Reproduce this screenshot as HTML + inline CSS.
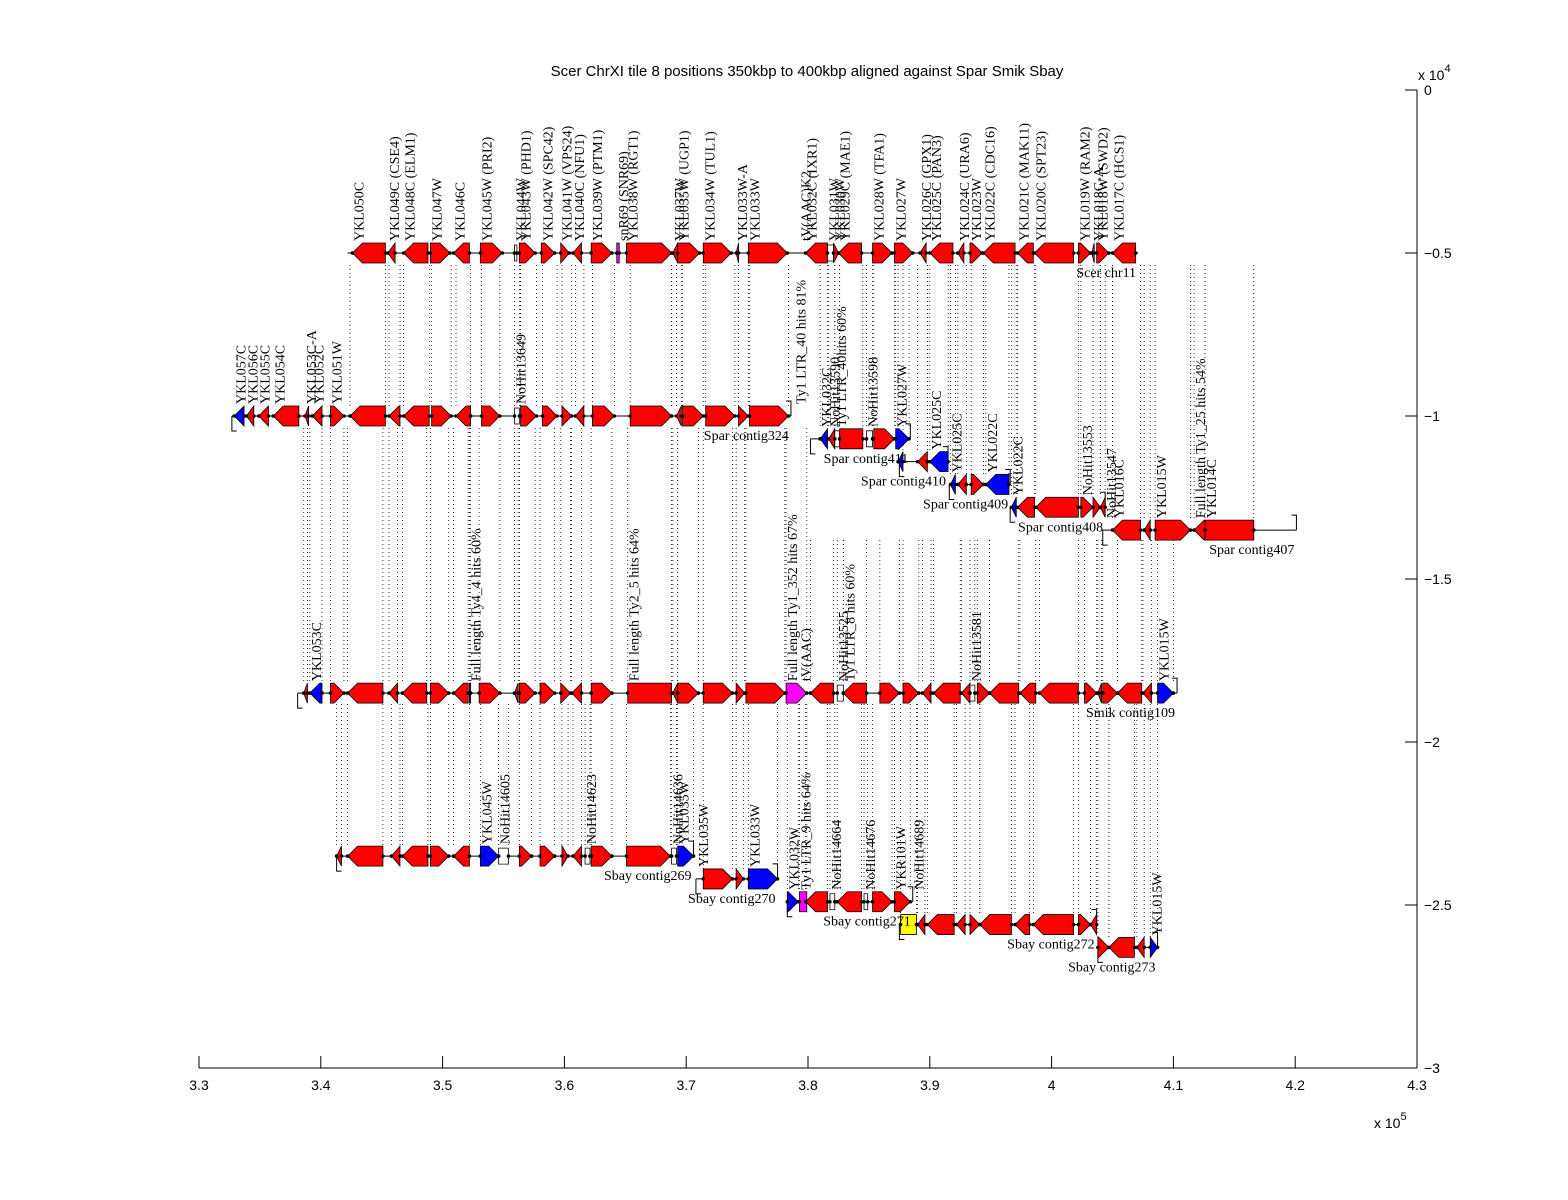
<!DOCTYPE html>
<html><head><meta charset="utf-8">
<style>
html,body{margin:0;padding:0;background:#fff;}
svg{display:block;}
.lbl{font-family:"Liberation Serif",serif;font-size:14px;fill:#000;}
.ax{font-family:"Liberation Sans",sans-serif;font-size:14px;fill:#000;}
</style></head>
<body>
<svg id="chart" width="1568" height="1200" viewBox="0 0 1568 1200" xmlns="http://www.w3.org/2000/svg">
<rect width="1568" height="1200" fill="#fff"/>
<text x="807" y="76" text-anchor="middle" class="ax" style="font-size:15px">Scer ChrXI tile 8 positions 350kbp to 400kbp aligned against Spar Smik Sbay</text>
<g id="axes"></g>
<g id="dots"></g>
<g id="tracks"></g>
<g id="genes"></g>
<g id="labels"></g>
</svg>
<script>
// x axis ticks (kbp) and y axis ticks
const xTicks=[330,340,350,360,370,380,390,400,410,420,430];
const xTickLabels=["3.3","3.4","3.5","3.6","3.7","3.8","3.9","4","4.1","4.2","4.3"];
const yTicks=[0,-5000,-10000,-15000,-20000,-25000,-30000];
const yTickLabels=["0","\u22120.5","\u22121","\u22121.5","\u22122","\u22122.5","\u22123"];
// tracks: name, group, y value, start, end (kbp), label
const trackNames=["scer","spar324","spar411","spar410","spar409","spar408","spar407","smik109","sbay269","sbay270","sbay271","sbay272","sbay273"];
const trackGroup=[0,1,1,1,1,1,1,2,3,3,3,3,3];
const trackY=[-5000,-10000,-10700,-11400,-12100,-12800,-13500,-18500,-23500,-24200,-24900,-25600,-26300];
const trackStart=[342.2,332.7,380.2,387.5,391.6,396.6,404.2,338.1,341.3,370.8,378.3,387.5,403.8];
const trackEnd=[407.1,378.6,388.4,391.5,396.6,404.4,420.1,410.3,370.6,377.5,388.6,403.7,408.7];
const trackLabels=["Scer chr11","Spar contig324","Spar contig411","Spar contig410","Spar contig409","Spar contig408","Spar contig407","Smik contig109","Sbay contig269","Sbay contig270","Sbay contig271","Sbay contig272","Sbay contig273"];
// genes: [track, start, end, dir(1 fwd,-1 rev,0 box,2 outline,3 label only), color, label]
const genes=[
[0,342.6,345.3,-1,"r","YKL050C"],[0,345.5,346.1,-1,"r","YKL049C (CSE4)"],[0,346.8,348.8,-1,"r","YKL048C (ELM1)"],
[0,349.0,350.6,1,"r","YKL047W"],[0,350.9,352.2,-1,"r","YKL046C"],[0,353.1,354.9,1,"r","YKL045W (PRI2)"],
[0,355.9,356.1,2,"w","YKL044W"],[0,356.3,357.6,1,"r","YKL043W (PHD1)"],[0,358.1,359.2,1,"r","YKL042W (SPC42)"],
[0,359.7,360.4,1,"r","YKL041W (VPS24)"],[0,360.7,361.4,-1,"r","YKL040C (NFU1)"],[0,362.2,363.9,1,"r","YKL039W (PTM1)"],
[0,364.3,364.5,0,"m","snR69 (SNR69)"],[0,365.1,368.8,1,"r","YKL038W (RGT1)"],[0,368.9,369.3,-1,"r","YKL037W"],
[0,369.3,371.1,1,"r","YKL035W (UGP1)"],[0,371.4,373.7,1,"r","YKL034W (TUL1)"],[0,374.1,374.3,-1,"r","YKL033W-A"],
[0,375.1,378.3,1,"r","YKL033W"],[0,379.3,379.4,3,"r","tV(AAC)K2"],[0,379.8,381.6,-1,"r","YKL032C (IXR1)"],
[0,381.6,382.1,2,"w","YKL031W"],[0,382.1,382.5,1,"r","YKL030W"],[0,382.5,384.4,-1,"r","YKL029C (MAE1)"],
[0,385.3,386.9,1,"r","YKL028W (TFA1)"],[0,387.1,388.6,1,"r","YKL027W"],[0,389.2,389.7,-1,"r","YKL026C (GPX1)"],
[0,390.0,391.9,-1,"r","YKL025C (PAN3)"],[0,392.3,392.8,-1,"r","YKL024C (URA6)"],[0,393.3,394.3,1,"r","YKL023W"],
[0,394.4,397.0,-1,"r","YKL022C (CDC16)"],[0,397.2,398.5,-1,"r","YKL021C (MAK11)"],[0,398.6,401.8,-1,"r","YKL020C (SPT23)"],
[0,402.2,403.2,1,"r","YKL019W (RAM2)"],[0,403.3,403.5,-1,"r","YKL018C-A"],[0,403.7,404.7,1,"r","YKL018W (SWD2)"],
[0,405.0,406.9,-1,"r","YKL017C (HCS1)"],
[1,332.9,333.7,-1,"b","YKL057C"],[1,333.9,334.5,-1,"r","YKL056C"],[1,334.9,335.7,-1,"r","YKL055C"],
[1,336.1,338.2,-1,"r","YKL054C"],[1,338.7,339.0,-1,"r","YKL053C-A"],[1,339.3,340.1,-1,"r","YKL052C"],
[1,340.8,341.9,1,"r","YKL051W"],[1,342.4,345.3,-1,"r",""],[1,345.6,346.5,-1,"r",""],[1,346.8,348.9,-1,"r",""],
[1,349.1,350.7,1,"r",""],[1,351.1,352.3,-1,"r",""],[1,353.2,354.7,1,"r",""],[1,355.9,356.3,2,"w","NoHit13649"],
[1,356.4,357.7,1,"r",""],[1,358.2,359.4,1,"r",""],[1,359.8,360.6,1,"r",""],[1,360.9,361.6,-1,"r",""],
[1,362.3,364.1,1,"r",""],[1,365.4,368.8,1,"r",""],[1,369.2,369.6,-1,"r",""],[1,369.7,371.4,1,"r",""],
[1,371.6,374.0,1,"r",""],[1,374.3,375.1,1,"r",""],[1,375.2,378.4,1,"r",""],[1,378.9,379.0,3,"r","Ty1 LTR_40 hits 81%"],
[2,381.0,381.6,-1,"b","YKL032C"],[2,381.7,382.2,-1,"r","NoHit13590"],[2,382.2,382.6,2,"w","Ty1 LTR_40hits 60%"],
[2,382.6,384.5,0,"r",""],[2,384.8,385.3,2,"w","NoHit13598"],[2,385.4,387.1,1,"r",""],[2,387.2,388.3,1,"b","YKL027W"],
[3,387.4,387.8,-1,"b",""],[3,389.0,389.8,-1,"r",""],[3,390.0,391.5,-1,"b","YKL025C"],
[4,391.7,392.1,-1,"b","YKL025C"],[4,392.3,393.0,-1,"r",""],[4,393.4,394.4,1,"r",""],[4,394.6,396.5,-1,"b","YKL022C"],
[5,396.7,397.1,-1,"b","YKL022C"],[5,397.2,398.6,-1,"r",""],[5,398.7,402.2,-1,"r",""],[5,402.4,403.4,1,"r","NoHit13553"],
[5,403.4,404.0,1,"r",""],[5,404.0,404.4,-1,"r",""],
[6,404.4,404.5,3,"r","NoHit13547"],[6,405.0,407.3,-1,"r","YKL016C"],[6,407.6,408.1,-1,"r",""],[6,408.5,411.4,1,"r","YKL015W"],
[6,411.7,412.6,-1,"r","Full length Ty1_25 hits 54%"],[6,412.6,416.6,0,"r","YKL014C"],
[7,338.6,338.9,-1,"r",""],[7,339.1,340.1,-1,"b","YKL053C"],[7,340.8,341.9,1,"r",""],[7,342.2,345.1,-1,"r",""],
[7,345.6,346.3,-1,"r",""],[7,346.7,348.7,-1,"r",""],[7,349.0,350.5,1,"r",""],[7,350.9,352.1,-1,"r",""],
[7,352.2,352.3,0,"m","Full length Ty4_4 hits 60%"],[7,353.0,354.7,1,"r",""],[7,355.9,356.2,-1,"r",""],
[7,356.3,357.6,1,"r",""],[7,358.0,359.2,1,"r",""],[7,359.7,360.5,1,"r",""],[7,360.6,361.4,-1,"r",""],
[7,362.2,363.9,1,"r",""],[7,365.2,368.8,0,"r","Full length Ty2_5 hits 64%"],[7,368.9,369.3,-1,"r",""],
[7,369.3,371.0,1,"r",""],[7,371.4,373.8,1,"r",""],[7,374.1,374.8,1,"r",""],[7,374.9,378.1,1,"r",""],
[7,378.2,379.9,1,"m","Full length Ty1_352 hits 67%"],[7,379.3,379.4,3,"r","tV(AAC)"],[7,380.2,382.1,-1,"r",""],
[7,382.4,382.9,2,"w","NoHit13525"],[7,382.9,384.8,-1,"r","Ty1 LTR_8 hits 60%"],[7,385.9,387.5,1,"r",""],
[7,387.8,389.1,1,"r",""],[7,389.4,390.1,-1,"r",""],[7,390.3,392.5,-1,"r",""],[7,392.6,393.3,-1,"r",""],
[7,393.3,393.7,2,"w","NoHit13581"],[7,393.9,394.9,1,"r",""],[7,394.9,397.3,-1,"r",""],[7,397.4,398.7,-1,"r",""],
[7,399.0,402.2,-1,"r",""],[7,402.7,403.7,1,"r",""],[7,403.8,404.1,-1,"r",""],[7,404.2,405.4,1,"r",""],
[7,405.4,407.4,-1,"r",""],[7,407.5,408.2,-1,"r",""],[7,408.7,410.0,1,"b","YKL015W"],
[8,341.3,341.7,-1,"r",""],[8,342.2,345.1,-1,"r",""],[8,345.8,346.5,-1,"r",""],[8,346.7,348.8,-1,"r",""],
[8,349.0,350.5,1,"r",""],[8,350.9,352.2,-1,"r",""],[8,353.1,354.6,1,"b","YKL045W"],[8,354.6,355.4,2,"w","NoHit14605"],
[8,356.3,357.3,1,"r",""],[8,358.0,359.2,1,"r",""],[8,359.8,360.3,1,"r",""],[8,360.7,361.4,-1,"r",""],
[8,361.7,362.1,2,"w","NoHit14623"],[8,362.2,363.9,1,"r",""],[8,365.1,368.7,1,"r",""],[8,368.8,369.2,2,"w","NoHit14636"],
[8,369.3,370.6,1,"b","YKL035W"],
[9,370.9,371.0,3,"r","YKL035W"],[9,371.4,373.8,1,"r",""],[9,374.1,374.7,1,"r",""],[9,375.1,377.5,1,"b","YKL033W"],
[10,378.3,379.2,1,"b","YKL032W"],[10,379.3,379.9,0,"m","Ty1 LTR_9 hits 64%"],[10,379.8,381.6,-1,"r",""],
[10,381.8,382.2,2,"w","NoHit14664"],[10,382.4,384.4,-1,"r",""],[10,384.6,384.9,2,"w","NoHit14676"],
[10,385.3,386.9,1,"r",""],[10,387.1,388.4,1,"r","YKR101W"],[10,388.6,388.7,3,"r","NoHit14689"],
[11,387.6,388.9,0,"y",""],[11,389.0,389.6,-1,"r",""],[11,389.8,392.0,-1,"r",""],[11,392.2,392.9,-1,"r",""],
[11,393.3,394.1,1,"r",""],[11,394.1,396.7,-1,"r",""],[11,397.0,398.2,-1,"r",""],[11,398.5,401.8,-1,"r",""],
[11,402.2,403.2,1,"r",""],[11,403.2,403.7,-1,"r",""],
[12,403.8,404.7,1,"r",""],[12,404.7,406.8,-1,"r",""],[12,407.0,407.6,-1,"r",""],[12,408.1,408.7,1,"b","YKL015W"]
];
const colorMap={r:"#ff0000",b:"#0000ff",m:"#ff00ff",y:"#ffff00",w:"#ffffff"};
const NS="http://www.w3.org/2000/svg";
function X(k){return 199+(k-330)*12.18;}
function Y(v){return 90-v*0.0326;}
function mk(parent,tag,attrs){const e=document.createElementNS(NS,tag);for(const a in attrs)e.setAttribute(a,attrs[a]);parent.appendChild(e);return e;}
const gAx=document.getElementById('axes'),gDots=document.getElementById('dots'),gTr=document.getElementById('tracks'),gG=document.getElementById('genes'),gL=document.getElementById('labels');
// axes
let ln=mk(gAx,'line',{x1:199,y1:1068,x2:1417,y2:1068,stroke:'#000'});


ln=mk(gAx,'line',{x1:1417,y1:90,x2:1417,y2:1068,stroke:'#000'});


xTicks.forEach((t,i)=>{
  const x=X(t);
  const tk=mk(gAx,'line',{x1:x,y1:1068,x2:x,y2:1056,stroke:'#000'});
  
  
  const tx=mk(gAx,'text',{x:x,y:1090,'text-anchor':'middle','class':'ax'});
  tx.textContent=xTickLabels[i];
  
  
});
yTicks.forEach((t,i)=>{
  const y=Y(t);
  const tk=mk(gAx,'line',{x1:1405,y1:y,x2:1417,y2:y,stroke:'#000'});
  
  
  const tx=mk(gAx,'text',{x:1424,y:y+5,'class':'ax'});
  tx.textContent=yTickLabels[i];
  
  
});
let ex=mk(gAx,'text',{x:1418,y:80,'class':'ax'});ex.innerHTML='x 10<tspan dy="-8" font-size="11">4</tspan>';


ex=mk(gAx,'text',{x:1374,y:1128,'class':'ax'});ex.innerHTML='x 10<tspan dy="-8" font-size="11">5</tspan>';


// tracks
trackNames.forEach((n,i)=>{
  const y=Y(trackY[i]),x1=X(trackStart[i]),x2=X(trackEnd[i]);
  const l=mk(gTr,'line',{x1:x1,y1:y,x2:x2,y2:y,stroke:'#000'});
  
  
  if(i>0){
    mk(gTr,'path',{d:`M${x1+5},${y+15}H${x1}V${y}`,fill:'none',stroke:'#000'});
    mk(gTr,'path',{d:`M${x2-5},${y-15}H${x2}V${y}`,fill:'none',stroke:'#000'});
  }
  const t=mk(gL,'text',{x:x2-2,y:y+24,'text-anchor':'end','class':'lbl'});
  t.textContent=trackLabels[i];
  
  
});
// genes
const dotTop=[0,265,428,704];
genes.forEach(g=>{
  const [ti,s,e,dir,c,lab]=g;
  const y=Y(trackY[ti]);let x1=X(s),x2=X(e);
  const grp=trackGroup[ti];
  if(grp>0&&dir!==3&&!(grp===1&&s<342)){
    let top=dotTop[grp];
    if(grp===2&&s>378.5)top=540;
    [x1,x2].forEach(x=>mk(gDots,'line',{x1:x,y1:top,x2:x,y2:y-10,stroke:'#000','stroke-width':0.8,'stroke-dasharray':'1,3'}));
  }
  if(dir!==3){
    const h=10;let pts;
    if(dir===1){const hx=Math.max(x1,x2-h);pts=[[x1,y-10],[hx,y-10],[x2,y],[hx,y+10],[x1,y+10]];}
    else if(dir===-1){const hx=Math.min(x2,x1+h);pts=[[x2,y-10],[hx,y-10],[x1,y],[hx,y+10],[x2,y+10]];}
    else if(dir===2){pts=[[x1,y-8],[x2,y-8],[x2,y+8],[x1,y+8]];}
    else {pts=[[x1,y-10],[x2,y-10],[x2,y+10],[x1,y+10]];}
    const p=mk(gG,'polygon',{points:pts.map(q=>q.join(',')).join(' '),fill:colorMap[c],stroke:'#000','stroke-width':0.8});
    
    
    mk(gG,'circle',{cx:x1,cy:y,r:1.8,fill:'#000'});
    mk(gG,'circle',{cx:x2,cy:y,r:1.8,fill:'#000'});
  }
  if(lab){
    const lx=x1+11,ly=y-12;
    const t=mk(gL,'text',{x:lx,y:ly,transform:`rotate(-90 ${lx} ${ly})`,'class':'lbl'});
    t.textContent=lab;
    
    
  }
});
</script>
</body></html>
